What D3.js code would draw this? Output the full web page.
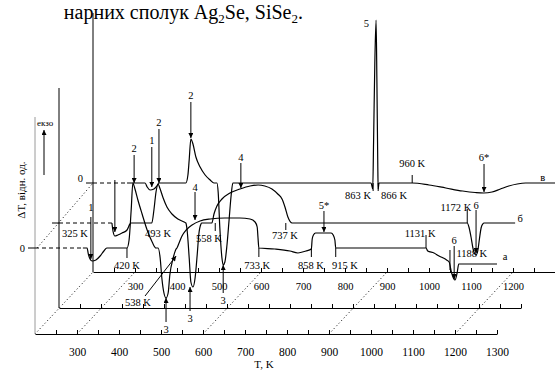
<!DOCTYPE html>
<html lang="uk">
<head>
<meta charset="UTF-8">
<title>ДТА: Ag2Se, SiSe2</title>
<script src="https://d3js.org/d3.v7.min.js"></script>
<style>
    body { margin: 0; background: #fff; }
    svg { display: block; font-family: "Liberation Serif", "Times New Roman", serif; }
    .curve { fill: none; stroke: #000; stroke-width: 1.2; }
    .zero { stroke: #000; stroke-width: 1; stroke-dasharray: 4,3; }
    .dots { stroke: #000; stroke-width: 1; stroke-dasharray: 1,2.6; }
    .axis path, .axis line { stroke: #000; }
    .axis text { font-family: "Liberation Serif", "Times New Roman", serif; fill: #000; }
    .mark { stroke: #000; stroke-width: 1; }
    .lbl { font-size: 10.5px; fill: #000; }
</style>
</head>
<body>
<div id="chart"></div>
<script>
    // temperature ticks (K)
    const tempTicks = d3.range(250, 1301, 50);
    const frontLabels = d3.range(300, 1301, 100);
    const backLabels = d3.range(300, 1201, 100);

    // curves: [T, ΔT] (relative units), а - front, б - middle, в - back
    const curveA = [
        [314,0],[324,0],[327,-6],[331,-11],[336,-13],[345,-12],[355,-8],[364,-3],[371,0],[419,0],
        [424,8],[429,38],[433,65],[438,59],[445,48],[455,34],[467,18],[479,6],[488,0],[493,0],
        [498,-10],[502,-30],[507,-45],[512,-50],[517,-45],[521,-27],[529,-10],[536,-1],[538,0],
        [543,5],[550,12],[560,18],[574,23],[593,27],[617,29],[652,30],[688,30],[712,29],[724,26],[729,21],[731,10],[733,0],
        [771,-1],[807,-3],[826,-5],[845,-3],[858,-1],[860,9],[863,13],[868,15],[905,15],[910,13],[914,8],[916,0],
        [1131,0],[1135,-3],[1150,-5],[1162,-8],[1172,-10],[1180,-12],[1186,-14],[1192,-25],[1200,-32],[1205,-25],[1209,-16],[1300,-16]
    ];
    const curveB = [
        [326,0],[329,-9],[333,-13],[340,-12],[350,-10],[362,-7],[369,-1],[372,0],[421,0],
        [426,13],[431,31],[436,39],[440,35],[448,25],[457,16],[469,9],[483,4],[498,1],[502,0],
        [505,-7],[510,-35],[514,-59],[519,-64],[524,-55],[529,-32],[533,-11],[538,-1],[540,0],
        [564,0],[569,9],[576,17],[588,24],[607,30],[631,34],[655,37],[674,38],[690,37],[707,34],[721,29],[731,24],[738,16],[745,6],[755,0],
        [1172,0],[1176,-4],[1181,-14],[1186,-26],[1190,-31],[1193,-32],[1197,-28],[1201,-16],[1205,-5],[1209,-1],[1212,0],[1286,0]
    ];
    const curveC = [
        [281,0],[324,0],[329,-4],[336,-7],[345,-6],[352,-3],[357,0],[421,0],
        [426,8],[429,23],[433,44],[438,39],[445,26],[455,16],[467,8],[479,3],[488,0],[495,0],
        [498,-9],[502,-45],[507,-75],[510,-82],[514,-79],[519,-62],[524,-37],[529,-12],[533,0],
        [862,0],[866,-6],[868,40],[871,120],[874,163],[876,100],[878,20],[879,-6],[881,0],
        [960,0],[1000,-2],[1040,-5],[1080,-8],[1110,-9.5],[1130,-10],[1150,-9],[1170,-6],[1190,-3],[1210,-1],[1230,0],[1300,0]
    ];

    // effect arrows: [label, T, label ΔT, arrow from ΔT, arrow to ΔT]
    const marksA = [['1',333,41,31,-11],['2',436,100,93,65],['3',512,-81,-74,-50],['4',581,61,56,28],['5*',888,43,37,16],['6',1198,8,2,-31]];
    const marksB = [['',333,0,43,-9],['2',438,101,94,40],['3',512,-95,-88,-64],['4',633,66,60,35],['6',1193,18,13,-30]];
    const marksC = [['1',340,43,36,-4],['2',433,88,81,45],['3',510,-117,-110,-82],['6*',1131,26,19,-9]];

    // temperature labels: [text, T, ΔT, anchor]; ticks: [T, ΔT from, ΔT to]
    const tempA = [['325 K',326,15,'end'],['420 K',419,-17,'middle'],['493 K',493,15,'middle'],['538 K',445,-54,'middle'],
        ['733 K',729,-17,'middle'],['858 K',857,-17,'middle'],['915 K',938,-17,'middle'],['1131 K',1117,15,'middle'],['1188 K',1240,-5,'middle']];
    const ticksA = [[419,0,-10],[733,0,-9],[858,0,-9],[916,0,-9],[1131,13,0],[1188,-2,-22]];
    const tempB = [['558 K',557,-15,'middle'],['737 K',738,-12,'middle'],['1172 K',1145,16,'middle']];
    const ticksB = [[572,0,-8],[740,0,-7],[1172,14,0]];
    const tempC = [['863 K',862,-12,'end'],['866 K',886,-12,'start'],['960 K',960,20,'middle'],['5',857,160,'end']];
    const ticksC = [[867,0,-8],[879,0,-8],[960,8,0]];

    const width = 555, height = 374;
    const pxPerK = 0.42;

    // pseudo-3D planes
    const planes = {
        'а': { x: 35, axisY: 334, zeroY: 248, top: 131, name: [1319, -8] },
        'б': { x: 59, axisY: 308, zeroY: 223, top: 135, name: [1298, 5] },
        'в': { x: 93, axisY: 272, zeroY: 183, top: 170, name: [1271, 6] }
    };
    Object.values(planes).forEach(p => {
        p.xs = d3.scaleLinear().domain([200, 1300]).range([p.x, p.x + 1100 * pxPerK]);
        p.ys = d3.scaleLinear().domain([0, 100]).range([p.zeroY, p.zeroY - 100]);
    });
    const A = planes['а'], B = planes['б'], C = planes['в'];

    const svg = d3.select("#chart").append("svg")
        .attr("width", width)
        .attr("height", height);

    svg.append("defs").append("marker")
        .attr("id", "head")
        .attr("viewBox", "0 0 10 10")
        .attr("refX", 10).attr("refY", 5)
        .attr("markerWidth", 6).attr("markerHeight", 5)
        .attr("markerUnits", "userSpaceOnUse")
        .attr("orient", "auto")
        .append("path").attr("d", "M0,0L10,5L0,10z").attr("fill", "#000");

    // caption line at the top of the page
    const cap = svg.append("text").attr("x", 303).attr("y", 19)
        .attr("text-anchor", "end").style("font-size", "20px");
    cap.append("tspan").text("нарних сполук Ag");
    cap.append("tspan").attr("dy", 4).style("font-size", "13px").text("2");
    cap.append("tspan").attr("dy", -4).text("Se, SiSe");
    cap.append("tspan").attr("dy", 4).style("font-size", "13px").text("2");
    cap.append("tspan").attr("dy", -4).text(".");

    // dotted perspective lines
    [200, 300, 600, 900, 1200].forEach(t => {
        svg.append("line").attr("class", "dots")
            .attr("x1", A.xs(t)).attr("y1", A.axisY)
            .attr("x2", C.xs(t)).attr("y2", C.axisY);
    });
    svg.append("line").attr("class", "dots")
        .attr("x1", A.xs(200) + 2).attr("y1", A.ys(0))
        .attr("x2", C.xs(200)).attr("y2", C.ys(0));

    // plane frames
    Object.entries(planes).forEach(([k, p]) => {
        svg.append("line")
            .attr("x1", p.x).attr("x2", p.x)
            .attr("y1", p.ys(p.top)).attr("y2", p.axisY)
            .attr("stroke", k === 'а' ? "#9a9a9a" : "#000");
        const labels = k === 'а' ? frontLabels : k === 'в' ? backLabels : [];
        const ax = d3.axisBottom(p.xs)
            .tickValues(tempTicks)
            .tickSizeInner(-4).tickSizeOuter(0)
            .tickPadding(k === 'а' ? 14 : 11)
            .tickFormat(d => labels.includes(d) ? d : "");
        svg.append("g").attr("class", "axis")
            .attr("transform", `translate(0,${p.axisY})`)
            .call(ax)
            .selectAll("text").style("font-size", k === 'а' ? "11.5px" : "10.5px");
        // zero tick and dashed zero line
        svg.append("line").attr("stroke", "#000")
            .attr("x1", p.x - 7).attr("x2", p.x)
            .attr("y1", p.ys(0)).attr("y2", p.ys(0));
    });
    const zeroStart = { 'а': 314, 'б': 326, 'в': 281 };
    Object.entries(zeroStart).forEach(([k, t]) => {
        const p = planes[k];
        svg.append("line").attr("class", "zero")
            .attr("x1", p.xs(200)).attr("x2", p.xs(t))
            .attr("y1", p.ys(0)).attr("y2", p.ys(0));
    });
    svg.append("text").attr("class", "lbl").attr("x", A.x - 10).attr("y", A.ys(0)).attr("dy", "0.35em")
        .attr("text-anchor", "end").text("0");
    svg.append("text").attr("class", "lbl").attr("x", C.x - 10).attr("y", C.ys(0) - 5).attr("dy", "0.35em")
        .attr("text-anchor", "end").text("0");

    // curves
    [[A, curveA], [B, curveB], [C, curveC]].forEach(([p, data]) => {
        const line = d3.line()
            .x(d => p.xs(d[0]))
            .y(d => p.ys(d[1]))
            .curve(d3.curveMonotoneX);
        svg.append("path").attr("class", "curve").attr("d", line(data));
    });

    // effect arrows
    [[A, marksA], [B, marksB], [C, marksC]].forEach(([p, marks]) => {
        marks.forEach(([txt, t, ly, from, to]) => {
            svg.append("line").attr("class", "mark")
                .attr("x1", p.xs(t)).attr("x2", p.xs(t))
                .attr("y1", p.ys(from)).attr("y2", p.ys(to))
                .attr("marker-end", "url(#head)");
            if (txt) {
                svg.append("text").attr("class", "lbl")
                    .attr("x", p.xs(t)).attr("y", p.ys(ly)).attr("dy", "0.35em")
                    .attr("text-anchor", "middle").text(txt);
            }
        });
    });
    // arrow of 538 K
    svg.append("line").attr("class", "mark")
        .attr("x1", A.xs(462)).attr("y1", A.ys(-48))
        .attr("x2", A.xs(536)).attr("y2", A.ys(-8))
        .attr("marker-end", "url(#head)");

    // temperature labels and ticks
    [[A, tempA, ticksA], [B, tempB, ticksB], [C, tempC, ticksC]].forEach(([p, labs, ticks]) => {
        labs.forEach(([txt, t, dt, anchor]) => {
            svg.append("text").attr("class", "lbl")
                .attr("x", p.xs(t)).attr("y", p.ys(dt)).attr("dy", "0.35em")
                .attr("text-anchor", anchor).text(txt);
        });
        ticks.forEach(([t, a, b]) => {
            svg.append("line").attr("class", "mark")
                .attr("x1", p.xs(t)).attr("x2", p.xs(t))
                .attr("y1", p.ys(a)).attr("y2", p.ys(b));
        });
    });

    // curve names
    Object.entries(planes).forEach(([k, p]) => {
        svg.append("text").attr("class", "lbl")
            .attr("x", p.xs(p.name[0])).attr("y", p.ys(p.name[1])).attr("dy", "0.35em")
            .attr("text-anchor", "middle").text(k);
    });

    // axis titles
    svg.append("text").attr("x", 264).attr("y", 368)
        .attr("text-anchor", "middle").style("font-size", "11px").text("T, K");
    svg.append("text")
        .attr("transform", "translate(21,190) rotate(-90)")
        .attr("text-anchor", "middle").attr("dy", "0.35em")
        .style("font-size", "11px").text("ΔT, відн. од.");
    svg.append("text").attr("x", 37).attr("y", 123).attr("dy", "0.35em")
        .style("font-size", "9px").text("екзо");
    svg.append("line").attr("class", "mark")
        .attr("x1", 44).attr("x2", 44).attr("y1", 175).attr("y2", 130)
        .attr("marker-end", "url(#head)");
</script>
</body>
</html>
